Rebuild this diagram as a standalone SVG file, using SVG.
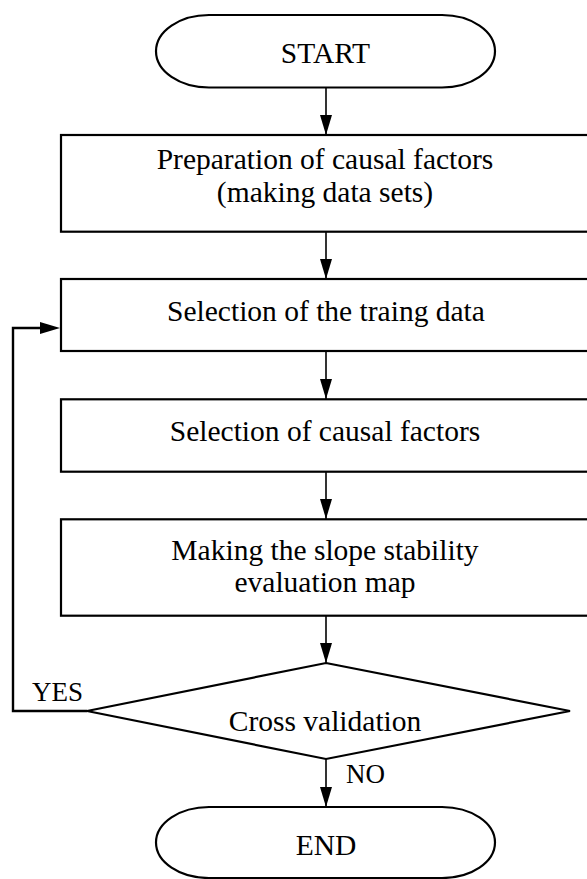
<svg xmlns="http://www.w3.org/2000/svg" width="587" height="879" viewBox="0 0 587 879">
<style>
.shape{fill:#fff;stroke:#000;stroke-width:2.2}
.conn{fill:none;stroke:#000;stroke-width:1.6}
.fb{fill:none;stroke:#000;stroke-width:2.4}
text{font-family:"Liberation Serif","Times New Roman",serif;font-size:29.5px;fill:#000;text-anchor:middle}
.lbl{font-size:27px;text-anchor:start}
</style>
<defs>
<marker id="ah" markerUnits="userSpaceOnUse" markerWidth="20" markerHeight="12" refX="20" refY="6" orient="auto">
<path d="M0,0 L20,6 L0,12 Z" fill="#000"/>
</marker>
</defs>
<rect width="587" height="879" fill="#fff"/>
<g id="connectors">
<line class="conn" x1="326" y1="88" x2="326" y2="135" marker-end="url(#ah)"/>
<line class="conn" x1="326" y1="232" x2="326" y2="279" marker-end="url(#ah)"/>
<line class="conn" x1="326" y1="351" x2="326" y2="399" marker-end="url(#ah)"/>
<line class="conn" x1="326" y1="472" x2="326" y2="519" marker-end="url(#ah)"/>
<line class="conn" x1="326" y1="616" x2="326" y2="663" marker-end="url(#ah)"/>
<line class="conn" x1="326" y1="759" x2="326" y2="807" marker-end="url(#ah)"/>
<polyline class="fb" points="87,711 13,711 13,328 40,328"/>
<path d="M40,322 L60,328 L40,334 Z" fill="#000"/>
<text class="lbl" x="32" y="701">YES</text>
<text class="lbl" x="346" y="783">NO</text>
</g>
<g id="start">
<path class="shape" d="M209,15 H442 A53,36.25 0 0 1 442,87.5 H209 A53,36.25 0 0 1 209,15 Z"/>
<text x="325.5" y="63">START</text>
</g>
<g id="prep">
<rect class="shape" x="61" y="135" width="528" height="96.7"/>
<text x="325" y="169">Preparation of causal factors</text>
<text x="325" y="201.5">(making data sets)</text>
</g>
<g id="sel-train">
<rect class="shape" x="61" y="279" width="528" height="72"/>
<text x="326" y="320.5">Selection of the traing data</text>
</g>
<g id="sel-causal">
<rect class="shape" x="61" y="399.3" width="528" height="72.4"/>
<text x="325" y="440.5">Selection of causal factors</text>
</g>
<g id="making">
<rect class="shape" x="61" y="519.3" width="528" height="96.4"/>
<text x="325" y="560">Making the slope stability</text>
<text x="325" y="591.7">evaluation map</text>
</g>
<g id="cross">
<polygon class="shape" points="326,663 570,711 326,759 87,711"/>
<text x="325" y="730.5">Cross validation</text>
</g>
<g id="end">
<path class="shape" d="M209,807 H442 A53,35.5 0 0 1 442,878 H209 A53,35.5 0 0 1 209,807 Z"/>
<text x="326" y="855">END</text>
</g>
</svg>
